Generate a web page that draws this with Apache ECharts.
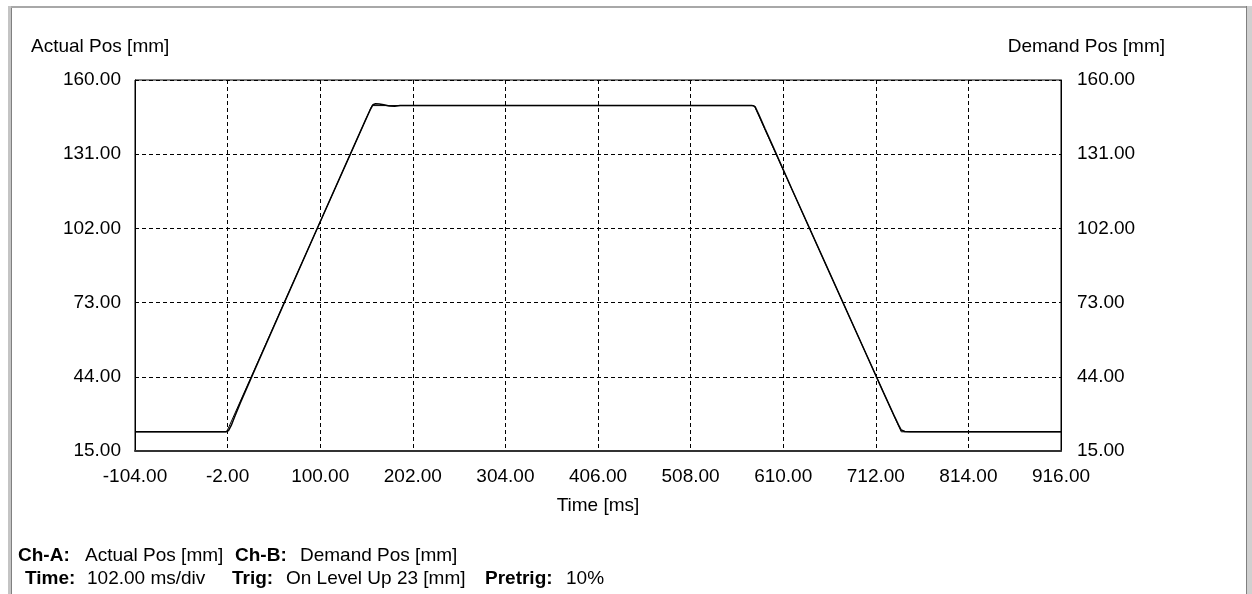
<!DOCTYPE html>
<html>
<head>
<meta charset="utf-8">
<script src="https://cdn.jsdelivr.net/npm/echarts@6/dist/echarts.min.js"></script>
<style>
  html, body { margin: 0; padding: 0; background: #ffffff; }
  #chart { width: 1252px; height: 594px; }
</style>
</head>
<body>
<div id="chart"></div>
<script>
// Scope trace: position of the axis (Ch-A) and its set-point (Ch-B) over time.
const actualTime = [-104, -4, -1, 2, 6, 12, 30, 60, 100, 130, 150, 155, 158, 161, 165, 170, 176, 182, 188,
                    300, 450, 576, 579, 583, 590, 601, 620, 660, 700, 720, 732, 737, 740, 744, 750, 916];
const actualPos  = [22.5, 22.5, 23.0, 25.0, 28.6, 33.8, 48.4, 72.6, 104.6, 128.5, 144.4, 148.3, 150.3, 150.7, 150.6, 150.3, 149.8, 149.7, 150.0,
                    150.0, 150.0, 150.0, 149.6, 146.6, 140.9, 132.2, 117.0, 85.5, 54.0, 38.2, 28.9, 25.2, 23.2, 22.6, 22.5, 22.5];

const demandTime = [-104, -3, 157, 578, 740, 916];
const demandPos  = [22.5, 22.5, 150.0, 150.0, 22.5, 22.5];

const xTicks = [-104, -2, 100, 202, 304, 406, 508, 610, 712, 814, 916];
const yTicks = [15, 44, 73, 102, 131, 160];

const xMin = xTicks[0], xMax = xTicks[xTicks.length - 1], xStep = xTicks[1] - xTicks[0];
const yMin = yTicks[0], yMax = yTicks[yTicks.length - 1], yStep = yTicks[1] - yTicks[0];

const FONT = '"Liberation Sans", Arial, sans-serif';
const FS = 19;

const chart = echarts.init(document.getElementById('chart'), null, { renderer: 'canvas' });

const dashed = { show: true, lineStyle: { color: '#000', width: 1, type: [4, 3] } };
const fmt = v => v.toFixed(2);

function pairs(xs, ys) { return xs.map((x, i) => [x, ys[i]]); }

function txt(x, y, text, bold) {
  return {
    type: 'text', left: x, top: y - 11,
    style: { text: text, font: (bold ? 'bold ' : '') + FS + 'px ' + FONT, fill: '#000' }
  };
}

chart.setOption({
  animation: false,
  backgroundColor: '#ffffff',
  grid: { left: 135, right: 191, top: 80, bottom: 143, show: true, borderColor: '#000', borderWidth: 1 },
  xAxis: {
    type: 'value', min: xMin, max: xMax, interval: xStep,
    name: 'Time [ms]', nameLocation: 'middle', nameGap: 55,
    nameTextStyle: { color: '#000', fontFamily: FONT, fontSize: FS, verticalAlign: 'middle' },
    axisLine: { show: true, onZero: false, lineStyle: { color: '#333', width: 2 } },
    axisTick: { show: false },
    axisLabel: { color: '#000', fontFamily: FONT, fontSize: FS, margin: 16, formatter: fmt },
    splitLine: dashed
  },
  yAxis: [
    {
      type: 'value', position: 'left', min: yMin, max: yMax, interval: yStep,
      axisLine: { show: true, onZero: false, lineStyle: { color: '#000', width: 1 } },
      axisTick: { show: false },
      axisLabel: { color: '#000', fontFamily: FONT, fontSize: FS, margin: 14, formatter: fmt,
                   verticalAlign: 'middle', padding: [0, 0, 8, 0] },
      splitLine: dashed
    },
    {
      type: 'value', position: 'right', min: yMin, max: yMax, interval: yStep,
      axisLine: { show: true, onZero: false, lineStyle: { color: '#000', width: 1 } },
      axisTick: { show: false },
      axisLabel: { color: '#000', fontFamily: FONT, fontSize: FS, margin: 16, formatter: fmt,
                   verticalAlign: 'middle', padding: [0, 0, 8, 0] },
      splitLine: { show: false }
    }
  ],
  series: [
    {
      name: 'Demand Pos [mm]', type: 'line', yAxisIndex: 1, showSymbol: false, symbol: 'none',
      data: pairs(demandTime, demandPos),
      lineStyle: { color: '#000', width: 1 }, z: 3
    },
    {
      name: 'Actual Pos [mm]', type: 'line', yAxisIndex: 0, showSymbol: false, symbol: 'none',
      data: pairs(actualTime, actualPos),
      lineStyle: { color: '#000', width: 1.5 }, z: 4
    }
  ],
  graphic: [
    // window frame
    { type: 'rect', shape: { x: 8, y: 6, width: 1238, height: 2 }, style: { fill: '#a8a8a8' } },
    { type: 'rect', shape: { x: 8, y: 6, width: 3, height: 588 }, style: { fill: '#c4c4c4' } },
    { type: 'rect', shape: { x: 11, y: 8, width: 1, height: 586 }, style: { fill: '#808080' } },
    { type: 'rect', shape: { x: 1246, y: 6, width: 1, height: 588 }, style: { fill: '#808080' } },
    { type: 'rect', shape: { x: 1247, y: 6, width: 5, height: 588 }, style: { fill: '#d0d0d0' } },
    // axis captions
    txt(31, 48, 'Actual Pos [mm]', false),
    { type: 'text', right: 1252 - 1165, top: 48 - 11,
      style: { text: 'Demand Pos [mm]', font: FS + 'px ' + FONT, fill: '#000' } },
    // channel / timebase info
    txt(18, 557, 'Ch-A:', true),
    txt(85, 557, 'Actual Pos [mm]', false),
    txt(235, 557, 'Ch-B:', true),
    txt(300, 557, 'Demand Pos [mm]', false),
    txt(25, 580, 'Time:', true),
    txt(87, 580, '102.00 ms/div', false),
    txt(232, 580, 'Trig:', true),
    txt(286, 580, 'On Level Up 23 [mm]', false),
    txt(485, 580, 'Pretrig:', true),
    txt(566, 580, '10%', false)
  ]
});
</script>
</body>
</html>
